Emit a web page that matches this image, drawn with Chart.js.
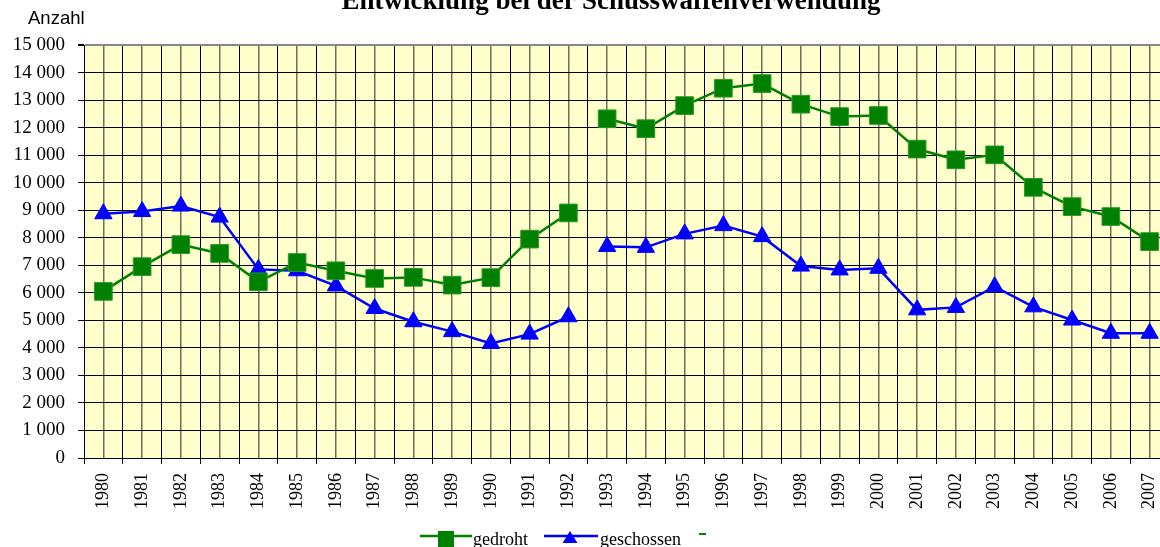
<!DOCTYPE html>
<html>
<head>
<meta charset="utf-8">
<script src="https://cdn.jsdelivr.net/npm/chart.js@4.4.1/dist/chart.umd.min.js"></script>
<style>
  html, body { margin: 0; padding: 0; width: 1160px; height: 547px; overflow: hidden; background: #fff; }
  #wrap { position: relative; width: 1160px; height: 547px; overflow: hidden; }
  #c { position: absolute; left: 0; top: 0; }
  .t { position: absolute; white-space: nowrap; color: #000; }
  #title { left: 0; width: 1222px; top: -15px; text-align: center; font: bold 27px "Liberation Serif", "Times New Roman", serif; line-height: 30px; }
  #ytitle { left: 28px; top: 8px; font: 18.5px "Liberation Sans", Arial, sans-serif; line-height: 20px; }
  .lt { font: 18px "Liberation Serif", "Times New Roman", serif; line-height: 18px; top: 530px; }
  .ic { position: absolute; }
</style>
</head>
<body>
<div id="wrap">
  <canvas id="c" width="1222" height="547"></canvas>
  <div id="title" class="t">Entwicklung bei der Schusswaffenverwendung</div>
  <div id="ytitle" class="t">Anzahl</div>
  <canvas id="lg1" class="ic" width="52" height="20" style="left:420px;top:528px"></canvas>
  <div class="t lt" style="left:473px">gedroht</div>
  <canvas id="lg2" class="ic" width="54" height="20" style="left:544px;top:528px"></canvas>
  <div class="t lt" style="left:600px">geschossen</div>
  <canvas id="lg3" class="ic" width="10" height="6" style="left:698px;top:531px"></canvas>
</div>
<script>
// ---- data ----
const years = ['1980','1981','1982','1983','1984','1985','1986','1987','1988','1989','1990','1991','1992','1993','1994','1995','1996','1997','1998','1999','2000','2001','2002','2003','2004','2005','2006','2007'];
const gedroht = [6050, 6950, 7750, 7430, 6400, 7100, 6800, 6520, 6560, 6280, 6550, 7950, 8900, 12320, 11960, 12800, 13430, 13600, 12850, 12400, 12440, 11220, 10830, 11010, 9830, 9130, 8770, 7860];
const geschossen = [8870, 8950, 9150, 8750, 6850, 6800, 6250, 5430, 4950, 4590, 4160, 4500, 5130, 7680, 7650, 8140, 8440, 8040, 6970, 6830, 6890, 5380, 5470, 6220, 5490, 5010, 4530, 4530];
const seriesNames = ['gedroht', 'geschossen'];
const yMin = 0, yMax = 15000, yStep = 1000;
const breakAfter = '1992'; // no line drawn between 1992 and 1993

const GREEN = '#008000', BLUE = '#0000FF';
const SERIF = '"Liberation Serif", "Times New Roman", serif';
const breakIdx = years.indexOf(breakAfter);

function fmt(v) { return String(v).replace(/\B(?=(\d{3})+(?!\d))/g, ' '); }

const plotBg = {
  id: 'plotBg',
  beforeDraw(chart) {
    const { ctx, chartArea: a } = chart;
    ctx.save();
    ctx.fillStyle = '#FFFFCC';
    ctx.fillRect(a.left, a.top, a.right - a.left, a.bottom - a.top);
    ctx.restore();
  }
};

const segGap = (color) => (ctx) => ctx.p0DataIndex === breakIdx ? 'rgba(0,0,0,0)' : color;

new Chart(document.getElementById('c'), {
  type: 'line',
  data: {
    labels: years,
    datasets: [
      {
        label: seriesNames[0], data: gedroht,
        borderColor: GREEN, backgroundColor: GREEN, borderWidth: 2.5,
        pointStyle: 'rect', pointRadius: 12.5, pointBorderColor: '#2a9a2a', pointBorderWidth: 1,
        pointBackgroundColor: GREEN, tension: 0, fill: false,
        segment: { borderColor: segGap(GREEN) }
      },
      {
        label: seriesNames[1], data: geschossen,
        borderColor: BLUE, backgroundColor: BLUE, borderWidth: 2.5,
        pointStyle: 'triangle', pointRadius: 10, pointBorderColor: BLUE, pointBorderWidth: 1,
        pointBackgroundColor: BLUE, tension: 0, fill: false,
        segment: { borderColor: segGap(BLUE) }
      }
    ]
  },
  options: {
    responsive: false,
    animation: false,
    devicePixelRatio: 1,
    layout: { padding: { top: 45, right: 53, bottom: 29, left: 0 } },
    plugins: { legend: { display: false }, title: { display: false }, tooltip: { enabled: false } },
    scales: {
      x: {
        type: 'category', position: 'bottom', offset: true,
        grid: { offset: true, color: '#000', lineWidth: 1, drawTicks: true, tickLength: 6, tickColor: '#000' },
        border: { display: true, color: '#000', width: 1 },
        ticks: { minRotation: 90, maxRotation: 90, autoSkip: false, padding: 9, color: '#000', font: { family: SERIF, size: 18 } },
        afterFit(s) { s.height = 60; }
      },
      x2: {
        type: 'category', labels: years, position: 'bottom', offset: true,
        grid: { offset: false, color: '#6e6e5c', lineWidth: 1.5, drawTicks: false },
        border: { display: false },
        ticks: { display: false },
        afterFit(s) { s.height = 0; }
      },
      y: {
        min: yMin, max: yMax,
        grid: { color: (c) => c.tick && c.tick.value === yMax ? '#888' : '#000', lineWidth: (c) => c.tick && c.tick.value === yMax ? 2 : 1, tickLength: 6, tickColor: '#000' },
        border: { display: true, color: '#000', width: 1 },
        ticks: { stepSize: yStep, padding: 13, color: '#000', font: { family: SERIF, size: 19 }, callback: (v) => fmt(v) },
        afterFit(s) { s.width = 84; }
      }
    }
  },
  plugins: [plotBg]
});

// ---- legend icons ----
(function () {
  let g = document.getElementById('lg1').getContext('2d');
  g.strokeStyle = GREEN; g.lineWidth = 2.5;
  g.beginPath(); g.moveTo(0, 8); g.lineTo(52, 8); g.stroke();
  g.fillStyle = GREEN; g.fillRect(18, 3, 16, 16);

  let b = document.getElementById('lg2').getContext('2d');
  b.strokeStyle = BLUE; b.lineWidth = 2.5;
  b.beginPath(); b.moveTo(0, 8); b.lineTo(54, 8); b.stroke();
  b.fillStyle = BLUE;
  b.beginPath(); b.moveTo(26, 3); b.lineTo(33.5, 15); b.lineTo(18.5, 15); b.closePath(); b.fill();

  let d = document.getElementById('lg3').getContext('2d');
  d.strokeStyle = GREEN; d.lineWidth = 2;
  d.beginPath(); d.moveTo(1, 3); d.lineTo(8, 3); d.stroke();
})();
</script>
</body>
</html>
